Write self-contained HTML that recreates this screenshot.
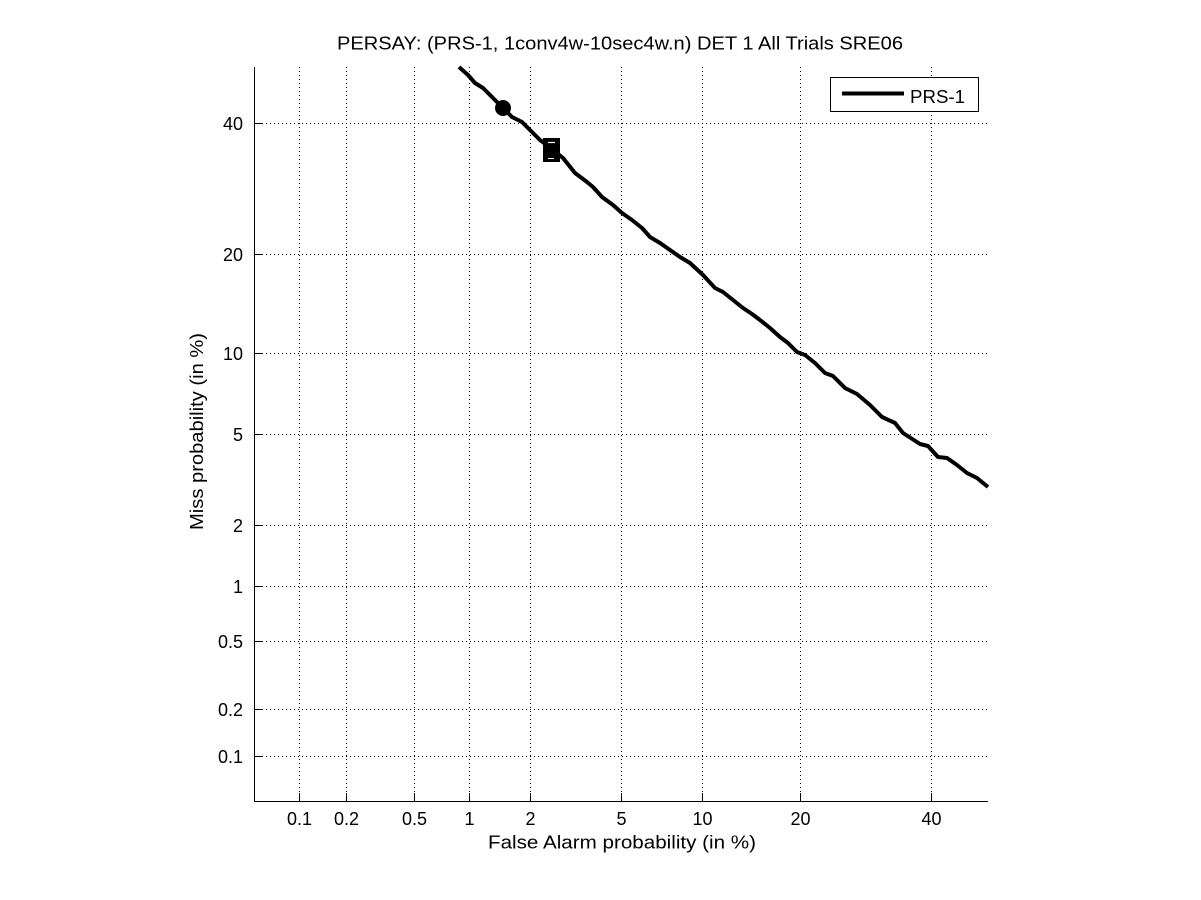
<!DOCTYPE html>
<html>
<head>
<meta charset="utf-8">
<style>
html,body{margin:0;padding:0;background:#fff;}
svg{display:block;}
text{font-family:"Liberation Sans",Arial,Helvetica,sans-serif;fill:#000;}
</style>
</head>
<body>
<svg width="1201" height="900" viewBox="0 0 1201 900" xmlns="http://www.w3.org/2000/svg">
<rect x="0" y="0" width="1201" height="900" fill="#fff"/>

<!-- grid vertical -->
<g stroke="#000" stroke-width="1" stroke-dasharray="1,3" fill="none">
  <line x1="299.5" y1="67" x2="299.5" y2="801"/>
  <line x1="346.5" y1="67" x2="346.5" y2="801"/>
  <line x1="414.5" y1="67" x2="414.5" y2="801"/>
  <line x1="469.5" y1="67" x2="469.5" y2="801"/>
  <line x1="530.5" y1="67" x2="530.5" y2="801"/>
  <line x1="621.5" y1="67" x2="621.5" y2="801"/>
  <line x1="702.5" y1="67" x2="702.5" y2="801"/>
  <line x1="800.5" y1="67" x2="800.5" y2="801"/>
  <line x1="931.5" y1="67" x2="931.5" y2="801"/>
  <!-- grid horizontal -->
  <line x1="254" y1="756.5" x2="988" y2="756.5"/>
  <line x1="254" y1="709.5" x2="988" y2="709.5"/>
  <line x1="254" y1="641.5" x2="988" y2="641.5"/>
  <line x1="254" y1="586.5" x2="988" y2="586.5"/>
  <line x1="254" y1="525.5" x2="988" y2="525.5"/>
  <line x1="254" y1="434.5" x2="988" y2="434.5"/>
  <line x1="254" y1="353.5" x2="988" y2="353.5"/>
  <line x1="254" y1="254.5" x2="988" y2="254.5"/>
  <line x1="254" y1="123.5" x2="988" y2="123.5"/>
</g>

<!-- axes -->
<g stroke="#000" stroke-width="1" fill="none">
  <line x1="254.5" y1="67" x2="254.5" y2="801.5"/>
  <line x1="254" y1="801.5" x2="988" y2="801.5"/>
  <!-- x ticks -->
  <line x1="299.5" y1="801" x2="299.5" y2="793"/>
  <line x1="346.5" y1="801" x2="346.5" y2="793"/>
  <line x1="414.5" y1="801" x2="414.5" y2="793"/>
  <line x1="469.5" y1="801" x2="469.5" y2="793"/>
  <line x1="530.5" y1="801" x2="530.5" y2="793"/>
  <line x1="621.5" y1="801" x2="621.5" y2="793"/>
  <line x1="702.5" y1="801" x2="702.5" y2="793"/>
  <line x1="800.5" y1="801" x2="800.5" y2="793"/>
  <line x1="931.5" y1="801" x2="931.5" y2="793"/>
  <!-- y ticks -->
  <line x1="254" y1="756.5" x2="262" y2="756.5"/>
  <line x1="254" y1="709.5" x2="262" y2="709.5"/>
  <line x1="254" y1="641.5" x2="262" y2="641.5"/>
  <line x1="254" y1="586.5" x2="262" y2="586.5"/>
  <line x1="254" y1="525.5" x2="262" y2="525.5"/>
  <line x1="254" y1="434.5" x2="262" y2="434.5"/>
  <line x1="254" y1="353.5" x2="262" y2="353.5"/>
  <line x1="254" y1="254.5" x2="262" y2="254.5"/>
  <line x1="254" y1="123.5" x2="262" y2="123.5"/>
</g>

<!-- y tick labels -->
<g font-size="18" text-anchor="end">
  <text x="243" y="763">0.1</text>
  <text x="243" y="716">0.2</text>
  <text x="243" y="648">0.5</text>
  <text x="243" y="593">1</text>
  <text x="243" y="532">2</text>
  <text x="243" y="441">5</text>
  <text x="243" y="360">10</text>
  <text x="243" y="261">20</text>
  <text x="243" y="130">40</text>
</g>

<!-- x tick labels -->
<g font-size="18" text-anchor="middle">
  <text x="299.5" y="825">0.1</text>
  <text x="346.5" y="825">0.2</text>
  <text x="414.5" y="825">0.5</text>
  <text x="469.5" y="825">1</text>
  <text x="530.5" y="825">2</text>
  <text x="621.5" y="825">5</text>
  <text x="702.5" y="825">10</text>
  <text x="800.5" y="825">20</text>
  <text x="931.5" y="825">40</text>
</g>

<!-- title -->
<text x="337" y="49.5" font-size="18" textLength="566" lengthAdjust="spacingAndGlyphs">PERSAY: (PRS-1, 1conv4w-10sec4w.n) DET 1 All Trials SRE06</text>

<!-- x label -->
<text x="488" y="848.5" font-size="18" textLength="268" lengthAdjust="spacingAndGlyphs">False Alarm probability (in %)</text>

<!-- y label -->
<text transform="translate(203,431.5) rotate(-90)" x="0" y="0" font-size="18" text-anchor="middle" textLength="197" lengthAdjust="spacingAndGlyphs">Miss probability (in %)</text>

<!-- curve -->
<polyline fill="none" stroke="#000" stroke-width="4" stroke-linejoin="round" stroke-linecap="butt"
 points="459,67 468,75 475,83 483,88 492,97 503,108 512,117 522,122 530,130 540,140 552,149 563,158 575,173 587,182 593,187 602,197 613,205 622,213 632,220 642,228 650,237 660,243 670,250 680,257 690,263 703,275 715,288 723,292 733,300 743,308 752,314 760,320 770,328 780,337 788,343 797,352 805,355 815,363 825,373 833,376 845,388 857,394 870,405 882,417 895,423 903,433 920,444 928,446 938,457 947,458 957,465 967,473 977,478 988,487"/>

<!-- circle marker -->
<circle cx="503" cy="108" r="4.5" fill="none" stroke="#000" stroke-width="7"/>

<!-- square marker -->
<rect x="543" y="138" width="17" height="24" fill="#000"/>
<line x1="548" y1="142.5" x2="555" y2="142.5" stroke="#fff" stroke-width="1.2"/>
<line x1="548" y1="158.5" x2="554" y2="158.5" stroke="#fff" stroke-width="1"/>

<!-- legend -->
<rect x="830.5" y="77.5" width="148" height="34" fill="#fff" stroke="#000" stroke-width="1"/>
<line x1="842" y1="93.5" x2="904" y2="93.5" stroke="#000" stroke-width="4"/>
<text x="910" y="103" font-size="18" textLength="55" lengthAdjust="spacingAndGlyphs">PRS-1</text>
</svg>
</body>
</html>
